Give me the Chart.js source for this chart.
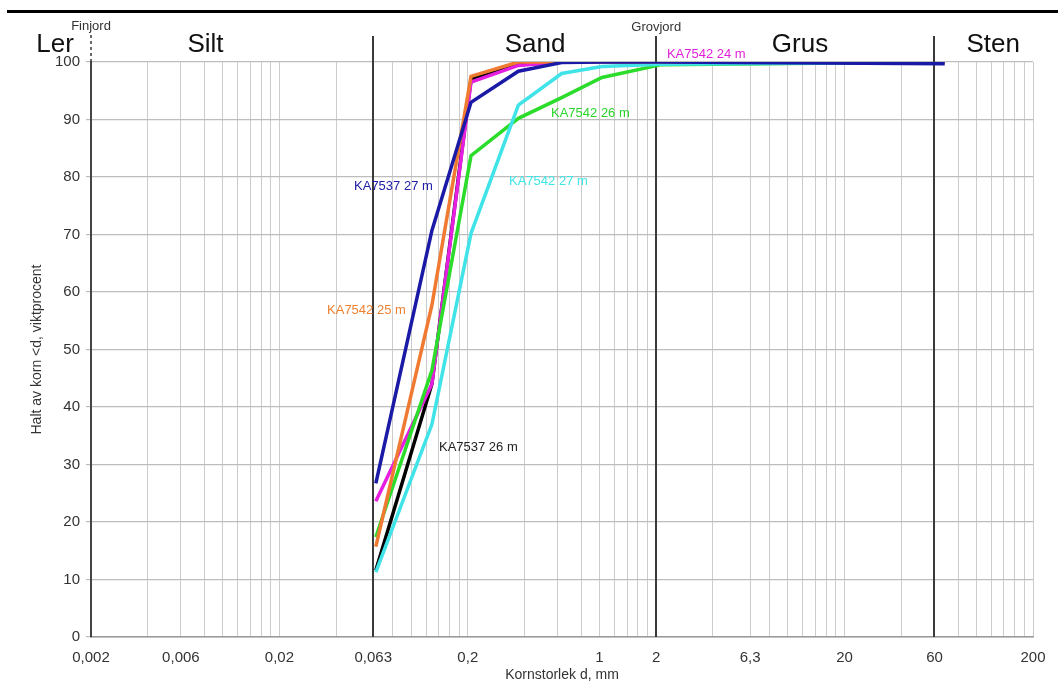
<!DOCTYPE html>
<html>
<head>
<meta charset="utf-8">
<title>Kornstorleksfördelning</title>
<script src="https://cdn.jsdelivr.net/npm/chart.js@4.4.1/dist/chart.umd.min.js"></script>
<style>
  html, body { margin: 0; padding: 0; background: #fff; }
</style>
</head>
<body>
<canvas id="sieveChart" width="1058" height="686"></canvas>
<script>
// siktstorlek (mm) och passerande mängd (viktprocent) per prov
const sieveMm   = [0.065, 0.129, 0.208, 0.371, 0.63, 1.03, 2.1, 68];
const ka7537_26 = [11.6, 44.0, 97.0, 99.5, 100, 100, 100, 100];
const ka7537_27 = [26.7, 70.7, 93.0, 98.4, 99.9, 100, 100, 99.7];
const ka7542_24 = [23.6, 44.0, 96.5, 99.4, 100, 100, 100, 100];
const ka7542_25 = [15.7, 57.7, 97.5, 100, 100, 100, 100, 100];
const ka7542_26 = [17.4, 46.4, 83.7, 90.2, 93.8, 97.3, 99.5, 100];
const ka7542_27 = [11.3, 37.0, 70.2, 92.5, 98.0, 99.2, 99.6, 100];

// x-axelns etiketter och rutnät
const tickMm   = [0.002, 0.006, 0.02, 0.063, 0.2, 1, 2, 6.3, 20, 60, 200];
const tickText = ['0,002', '0,006', '0,02', '0,063', '0,2', '1', '2', '6,3', '20', '60', '200'];
const gridMm = [0.002, 0.004, 0.006, 0.008, 0.01, 0.012, 0.014, 0.016, 0.018, 0.02, 0.04, 0.063,
                0.08, 0.1, 0.12, 0.14, 0.16, 0.18, 0.2, 0.4, 0.6, 0.8, 1, 1.2, 1.4, 1.6, 1.8, 2,
                4, 6.3, 8, 10, 12, 14, 16, 18, 20, 40, 60, 80, 100, 120, 140, 160, 180, 200];
const boundaryMm = [0.063, 2, 60];

// fraktionsnamn överst
const bandNames = ['Ler', 'Silt', 'Sand', 'Grus', 'Sten'];
const bandMm    = [0.00129, 0.0081, 0.455, 11.6, 123];

const FONT = '"Liberation Sans", Arial, sans-serif';

function sameMm(a, b) { return Math.abs(a - b) / b < 1e-6; }

function series(label, values, color, order) {
  return {
    label: label,
    data: sieveMm.map((d, i) => ({ x: d, y: values[i] })),
    borderColor: color,
    backgroundColor: color,
    borderWidth: 3.5,
    pointRadius: 0,
    tension: 0,
    order: order
  };
}

// provetiketter, placerade i diagrammets koordinater
const sampleNotes = [
  { text: 'KA7542 24 m', color: '#e020d8', x: 2.28,  y: 101.3 },
  { text: 'KA7542 26 m', color: '#2bd62b', x: 0.553, y: 91.1 },
  { text: 'KA7537 27 m', color: '#2020a8', x: 0.0498, y: 78.4 },
  { text: 'KA7542 27 m', color: '#3fe6e6', x: 0.331, y: 79.3 },
  { text: 'KA7542 25 m', color: '#ee8030', x: 0.0358, y: 56.8 },
  { text: 'KA7537 26 m', color: '#222222', x: 0.1406, y: 33.0 }
];

const soilFrame = {
  id: 'soilFrame',
  beforeDatasetsDraw(chart) {
    const { ctx, chartArea, scales } = chart;
    ctx.save();
    // gränser mellan fraktionerna
    ctx.strokeStyle = '#3a3a3a';
    ctx.lineWidth = 2;
    boundaryMm.forEach(d => {
      const x = Math.round(scales.x.getPixelForValue(d));
      ctx.beginPath();
      ctx.moveTo(x, 36);
      ctx.lineTo(x, chartArea.bottom);
      ctx.stroke();
    });
    // streckad markering för finjord
    const x0 = Math.round(scales.x.getPixelForValue(0.002));
    ctx.setLineDash([3, 3]);
    ctx.lineWidth = 1.5;
    ctx.beginPath();
    ctx.moveTo(x0, 35);
    ctx.lineTo(x0, chartArea.top);
    ctx.stroke();
    ctx.restore();
  },
  afterDraw(chart) {
    const { ctx, scales } = chart;
    ctx.save();
    ctx.fillStyle = '#000';
    ctx.fillRect(7, 10, 1051, 3);

    ctx.textAlign = 'center';
    ctx.textBaseline = 'middle';
    ctx.font = '26px ' + FONT;
    ctx.fillStyle = '#111';
    bandNames.forEach((name, i) => {
      ctx.fillText(name, scales.x.getPixelForValue(bandMm[i]), 45);
    });

    ctx.font = '13px ' + FONT;
    ctx.fillStyle = '#333';
    ctx.fillText('Finjord', scales.x.getPixelForValue(0.002), 26);
    ctx.fillText('Grovjord', scales.x.getPixelForValue(2), 27);

    ctx.textAlign = 'left';
    ctx.font = '13px ' + FONT;
    sampleNotes.forEach(n => {
      ctx.fillStyle = n.color;
      ctx.fillText(n.text, scales.x.getPixelForValue(n.x), scales.y.getPixelForValue(n.y));
    });
    ctx.restore();
  }
};

new Chart(document.getElementById('sieveChart'), {
  type: 'line',
  data: {
    datasets: [
      series('KA7537 27 m', ka7537_27, '#1a1aa6', 1),
      series('KA7542 25 m', ka7542_25, '#f07a32', 2),
      series('KA7542 27 m', ka7542_27, '#3fe3e8', 3),
      series('KA7542 26 m', ka7542_26, '#2bdc2b', 4),
      series('KA7542 24 m', ka7542_24, '#e51ee0', 5),
      series('KA7537 26 m', ka7537_26, '#000000', 6)
    ]
  },
  options: {
    responsive: false,
    animation: false,
    layout: { padding: { top: 62, right: 25, bottom: 0, left: 0 } },
    plugins: {
      legend: { display: false },
      tooltip: { enabled: false }
    },
    scales: {
      x: {
        type: 'logarithmic',
        min: 0.002,
        max: 200,
        afterBuildTicks(scale) {
          scale.ticks = gridMm.map(v => ({ value: v }));
        },
        afterFit(scale) { scale.height = 49; },
        grid: {
          drawTicks: false,
          lineWidth: 1,
          color: ctx => (ctx.tick && boundaryMm.some(b => sameMm(ctx.tick.value, b))) ? 'rgba(0,0,0,0)' : '#cccccc'
        },
        border: { color: '#9a9a9a', width: 1.5 },
        ticks: {
          autoSkip: false,
          maxRotation: 0,
          padding: 12,
          color: '#333',
          font: { family: FONT, size: 15 },
          callback(value) {
            const i = tickMm.findIndex(t => sameMm(value, t));
            return i >= 0 ? tickText[i] : '';
          }
        },
        title: {
          display: true,
          text: 'Kornstorlek d, mm',
          color: '#333',
          font: { family: FONT, size: 14 },
          padding: { top: 0, bottom: 2 }
        }
      },
      y: {
        min: 0,
        max: 100,
        afterFit(scale) { scale.width = 91; },
        grid: { color: '#bdbdbd', lineWidth: 1.2, tickLength: 5 },
        border: { color: '#444', width: 2 },
        ticks: {
          stepSize: 10,
          padding: 6,
          color: '#333',
          font: { family: FONT, size: 15 }
        },
        title: {
          display: true,
          text: 'Halt av korn <d, viktprocent',
          color: '#333',
          font: { family: FONT, size: 14 },
          padding: { top: 29, bottom: 0 }
        }
      }
    }
  },
  plugins: [soilFrame]
});
</script>
</body>
</html>
